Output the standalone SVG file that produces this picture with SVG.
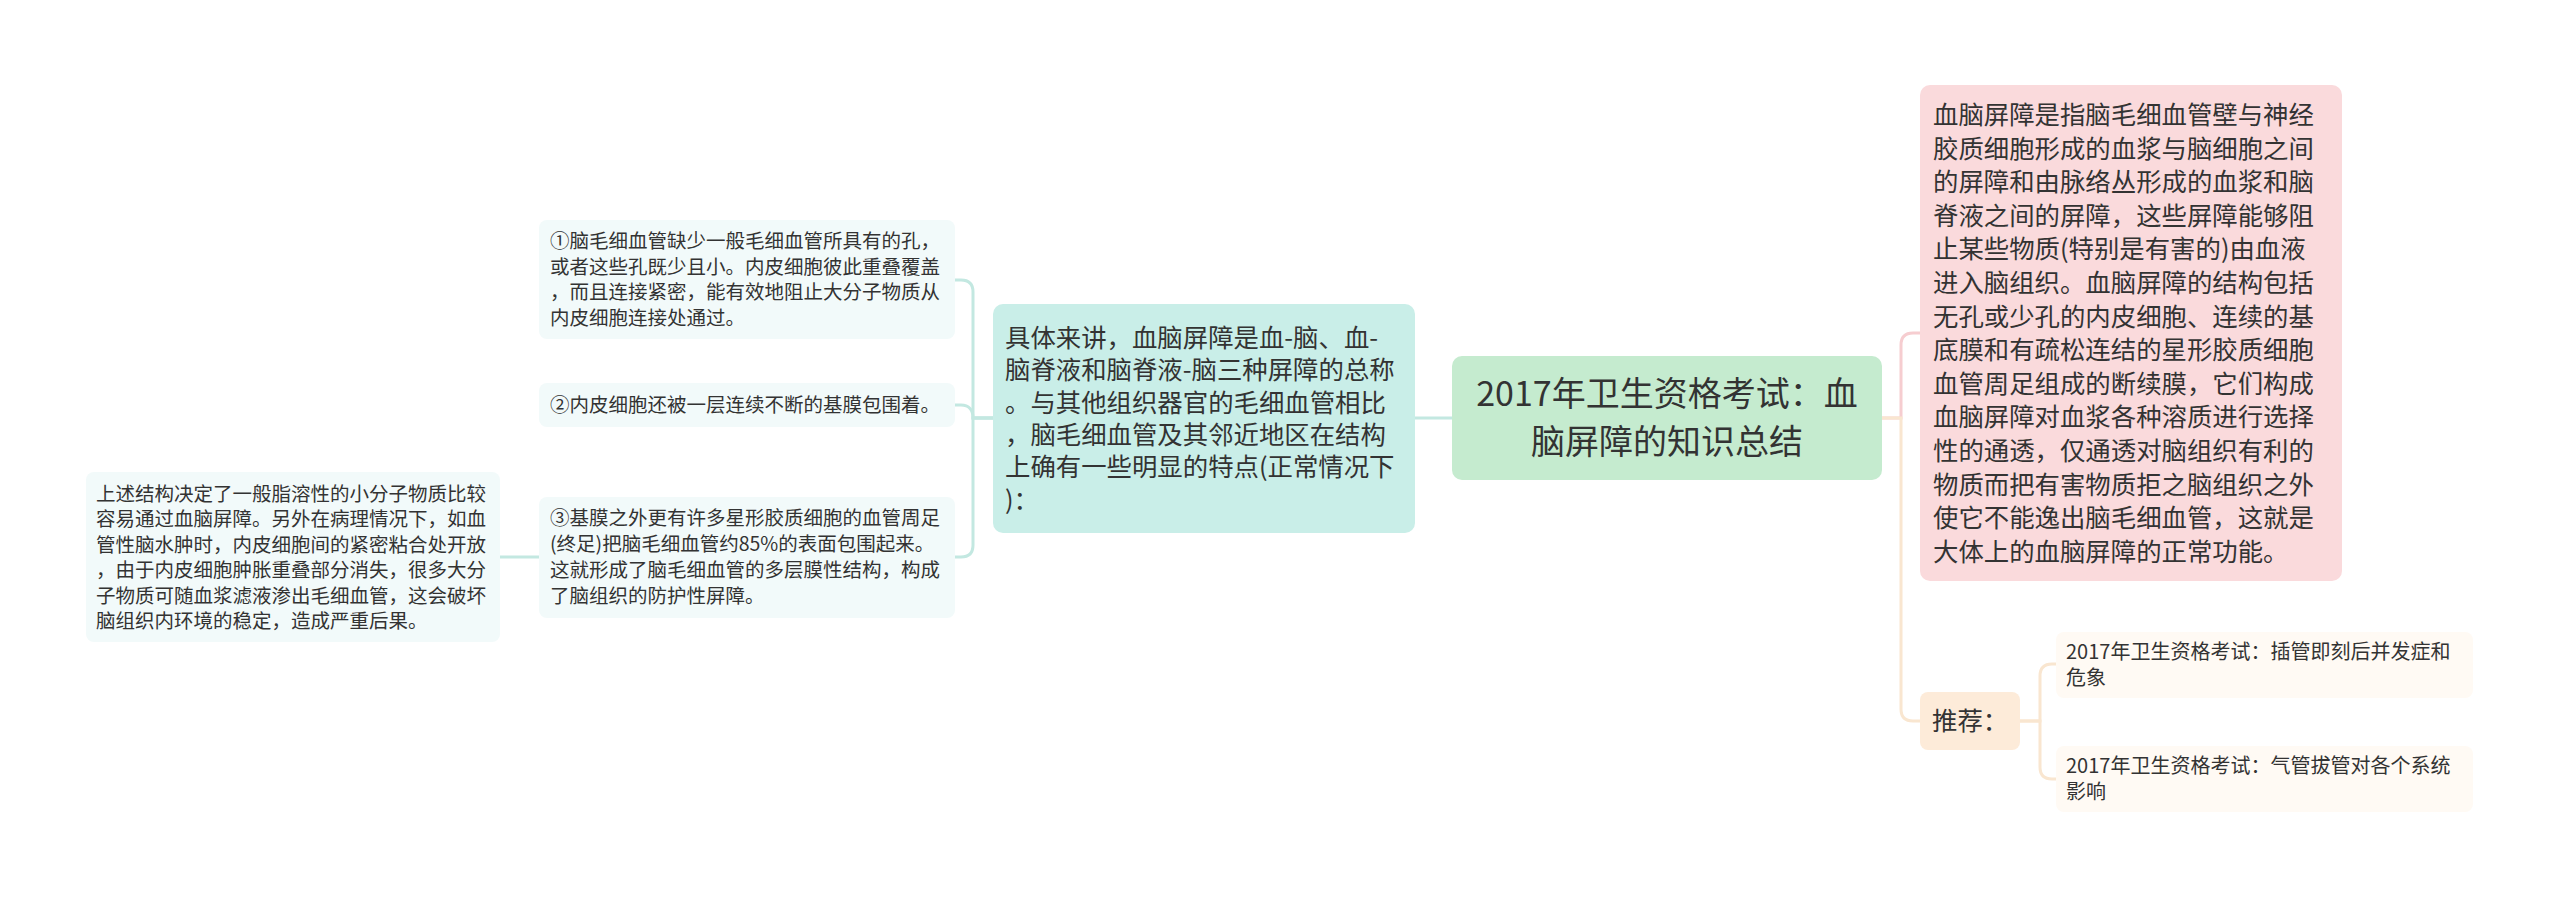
<svg xmlns="http://www.w3.org/2000/svg" width="2560" height="899" viewBox="0 0 2560 899">
<style>
text{font-family:"Noto Sans CJK SC","Noto Sans",sans-serif;fill:#333;}
.root{font-size:34px;}
.mid{font-size:25.4px;}
.sm{font-size:19.5px;}
.rec{font-size:20px;}
.c-teal{fill:none;stroke:#c3e8e1;stroke-width:3;}
.c-pink{fill:none;stroke:#f6cdd0;stroke-width:3;}
.c-peach{fill:none;stroke:#f9e6d0;stroke-width:3;}
</style>
<rect width="2560" height="899" fill="#ffffff"/>
<g id="connectors">
<path class="c-teal" d="M1452 418 H1415"/>
<path class="c-teal" d="M993 418 H973 V292 Q973 280 961 280 H955"/>
<path class="c-teal" d="M993 418 H973 C973 410 969 405 961 405 H955"/>
<path class="c-teal" d="M993 418 H973 V545 Q973 557 961 557 H955"/>
<path class="c-teal" d="M539 557 H500"/>
<path class="c-pink" d="M1882 418 H1901 V345 Q1901 333 1913 333 H1920"/>
<path class="c-peach" d="M1882 418 H1901 V709 Q1901 721 1913 721 H1920"/>
<path class="c-peach" d="M2020 721 H2040 V676 Q2040 664 2052 664 H2056"/>
<path class="c-peach" d="M2020 721 H2040 V767 Q2040 779 2052 779 H2056"/>
</g>
<g id="root">
<rect x="1452" y="356" width="430" height="124" rx="10" fill="#c5ebcf"/>
<text class="root" text-anchor="middle"><tspan x="1667" y="406">2017年卫生资格考试：血</tspan><tspan x="1667" y="454">脑屏障的知识总结</tspan></text>
</g>
<g id="node-definition">
<rect x="1920" y="85" width="422" height="496" rx="10" fill="#fadadc"/>
<text class="mid">
<tspan x="1933" y="124">血脑屏障是指脑毛细血管壁与神经</tspan>
<tspan x="1933" y="157.6">胶质细胞形成的血浆与脑细胞之间</tspan>
<tspan x="1933" y="191.2">的屏障和由脉络丛形成的血浆和脑</tspan>
<tspan x="1933" y="224.8">脊液之间的屏障，这些屏障能够阻</tspan>
<tspan x="1933" y="258.4">止某些物质(特别是有害的)由血液</tspan>
<tspan x="1933" y="292">进入脑组织。血脑屏障的结构包括</tspan>
<tspan x="1933" y="325.6">无孔或少孔的内皮细胞、连续的基</tspan>
<tspan x="1933" y="359.2">底膜和有疏松连结的星形胶质细胞</tspan>
<tspan x="1933" y="392.8">血管周足组成的断续膜，它们构成</tspan>
<tspan x="1933" y="426.4">血脑屏障对血浆各种溶质进行选择</tspan>
<tspan x="1933" y="460">性的通透，仅通透对脑组织有利的</tspan>
<tspan x="1933" y="493.6">物质而把有害物质拒之脑组织之外</tspan>
<tspan x="1933" y="527.2">使它不能逸出脑毛细血管，这就是</tspan>
<tspan x="1933" y="560.8">大体上的血脑屏障的正常功能。</tspan>
</text>
</g>
<g id="node-recommend">
<rect x="1920" y="692" width="100" height="58" rx="8" fill="#fdebd9"/>
<text class="mid" x="1932" y="730">推荐：</text>
</g>
<g id="node-rec1">
<rect x="2056" y="632" width="417" height="66" rx="8" fill="#fffaf4"/>
<text class="rec"><tspan x="2066" y="659">2017年卫生资格考试：插管即刻后并发症和</tspan><tspan x="2066" y="685">危象</tspan></text>
</g>
<g id="node-rec2">
<rect x="2056" y="746" width="417" height="66" rx="8" fill="#fffaf4"/>
<text class="rec"><tspan x="2066" y="773">2017年卫生资格考试：气管拔管对各个系统</tspan><tspan x="2066" y="799">影响</tspan></text>
</g>
<g id="node-specific">
<rect x="993" y="304" width="422" height="229" rx="10" fill="#c9eee8"/>
<text class="mid">
<tspan x="1005" y="347">具体来讲，血脑屏障是血-脑、血-</tspan>
<tspan x="1005" y="379.3">脑脊液和脑脊液-脑三种屏障的总称</tspan>
<tspan x="1005" y="411.6">。与其他组织器官的毛细血管相比</tspan>
<tspan x="1005" y="443.9">，脑毛细血管及其邻近地区在结构</tspan>
<tspan x="1005" y="476.2">上确有一些明显的特点(正常情况下</tspan>
<tspan x="1005" y="508.5">)：</tspan>
</text>
</g>
<g id="node-c1">
<rect x="539" y="220" width="416" height="119" rx="8" fill="#f2fafa"/>
<text class="sm">
<tspan x="550" y="248">①脑毛细血管缺少一般毛细血管所具有的孔，</tspan>
<tspan x="550" y="273.5">或者这些孔既少且小。内皮细胞彼此重叠覆盖</tspan>
<tspan x="550" y="299">，而且连接紧密，能有效地阻止大分子物质从</tspan>
<tspan x="550" y="324.5">内皮细胞连接处通过。</tspan>
</text>
</g>
<g id="node-c2">
<rect x="539" y="383" width="416" height="44" rx="8" fill="#f2fafa"/>
<text class="sm" x="550" y="412">②内皮细胞还被一层连续不断的基膜包围着。</text>
</g>
<g id="node-c3">
<rect x="539" y="497" width="416" height="121" rx="8" fill="#f2fafa"/>
<text class="sm">
<tspan x="550" y="525">③基膜之外更有许多星形胶质细胞的血管周足</tspan>
<tspan x="550" y="551">(终足)把脑毛细血管约85%的表面包围起来。</tspan>
<tspan x="550" y="577">这就形成了脑毛细血管的多层膜性结构，构成</tspan>
<tspan x="550" y="603">了脑组织的防护性屏障。</tspan>
</text>
</g>
<g id="node-c3-detail">
<rect x="86" y="472" width="414" height="170" rx="8" fill="#f2fafa"/>
<text class="sm">
<tspan x="96" y="500.5">上述结构决定了一般脂溶性的小分子物质比较</tspan>
<tspan x="96" y="526">容易通过血脑屏障。另外在病理情况下，如血</tspan>
<tspan x="96" y="551.5">管性脑水肿时，内皮细胞间的紧密粘合处开放</tspan>
<tspan x="96" y="577">，由于内皮细胞肿胀重叠部分消失，很多大分</tspan>
<tspan x="96" y="602.5">子物质可随血浆滤液渗出毛细血管，这会破坏</tspan>
<tspan x="96" y="628">脑组织内环境的稳定，造成严重后果。</tspan>
</text>
</g>
</svg>
